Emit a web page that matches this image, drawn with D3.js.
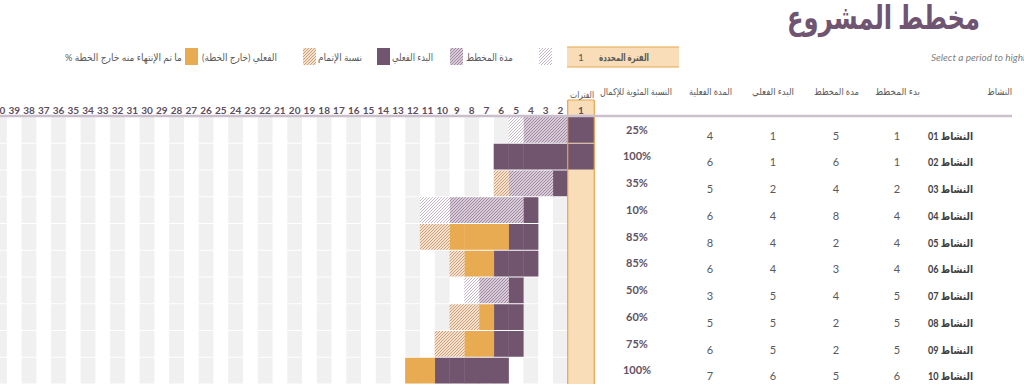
<!DOCTYPE html>
<html><head><meta charset="utf-8">
<script src="https://cdn.jsdelivr.net/npm/d3@7"></script>
<style>
html,body{margin:0;padding:0;background:#fff;overflow:hidden}
svg{display:block}
text{font-family:"Lato","DejaVu Sans",sans-serif}
.ar{direction:rtl;unicode-bidi:embed}
</style></head>
<body><svg id="chart" width="1024" height="384"></svg>
<script>
// ---------- DATA ----------
const title = "مخطط المشروع";
const subtitle = "Select a period to highlight at right.  A legend describing the charting follows.";
const activities = ["النشاط 01","النشاط 02","النشاط 03","النشاط 04","النشاط 05","النشاط 06","النشاط 07","النشاط 08","النشاط 09","النشاط 10"];
const planStart      = [1,1,2,4,4,4,5,5,5,6];
const planDuration   = [5,6,4,8,2,3,4,2,2,5];
const actualStart    = [1,1,2,4,4,4,5,5,5,6];
const actualDuration = [4,6,5,6,8,6,3,5,6,7];
const percentComplete= [25,100,35,10,85,85,50,60,75,100];
const periods = d3.range(1, 41);
const highlightPeriod = 1;
const columnHeaders = ["النشاط","بدء المخطط","مدة المخطط","البدء الفعلي","المدة الفعلية","النسبة المئوية للإكمال"];
const periodsHeader = "الفترات";
const highlightLabel = "الفترة المحددة";
const legendLabels = ["مدة المخطط","البدء الفعلي","نسبة الإتمام","الفعلي (خارج الخطة)","ما تم الإنتهاء منه خارج الخطة %"];

// ---------- STYLE ----------
const C = {
  purple:"#71556F", orange:"#E9AB51", hi:"#F8DDB8", hiBorder:"#E8A54B",
  stripe:"#F0F0F0", text:"#595959", dark:"#404040", line:"#CBBFCC", titleC:"#6F5571"
};

const svg = d3.select("#chart");
const defs = svg.append("defs");
function hatch(id, bg, fg, sw){
  const p = defs.append("pattern").attr("id",id).attr("patternUnits","userSpaceOnUse")
    .attr("width",3).attr("height",3);
  p.append("rect").attr("width",3).attr("height",3).attr("fill",bg);
  p.append("path").attr("d","M-1,1 l2,-2 M0,3 l3,-3 M2,4 l2,-2")
    .attr("stroke",fg).attr("stroke-width",sw);
}
hatch("hLight","#FFFFFF","#BCAEBD",0.9);
hatch("hPurple","#D6CBD6","#A089A1",1.0);
hatch("hOrange","#F2E1CF","#D0A078",1.0);

const fills = {
  complete:C.purple, completeBeyond:C.orange,
  actual:"url(#hPurple)", actualBeyond:"url(#hOrange)", plan:"url(#hLight)"
};

// ---------- SCALES ----------
const colW = 14.76;
const hiLeft = 567.7, hiRight = 594.3;
const xRight = d3.scaleLinear().domain([2, 42]).range([hiLeft, hiLeft - 40*colW]);
function colBounds(p){
  if (p === highlightPeriod) return [hiLeft, hiRight];
  const r = xRight(p);
  return [r - colW, r];
}
const y = d3.scaleBand().domain(activities).range([116, 116 + 10*26.75]).padding(0);
const rowH = y.bandwidth();

// Arabic text helper: right edge x, fitted width
function arText(g, xr, yy, str, len, size, opts = {}){
  const t = g.append("text").attr("class","ar").attr("x", xr).attr("y", yy)
    .attr("text-anchor","start").attr("font-size", size)
    .attr("fill", opts.fill || C.text)
    .attr("textLength", len).attr("lengthAdjust","spacingAndGlyphs");
  if (opts.weight) t.attr("font-weight", opts.weight);
  t.text(str);
  return t;
}

// ---------- STRIPES ----------
const gStripes = svg.append("g");
d3.range(1, 43).filter(p => p !== highlightPeriod && p % 2 === 0).forEach(p => {
  const [l, r] = colBounds(p);
  gStripes.selectAll(null).data(activities).enter().append("rect")
    .attr("x", l).attr("width", r - l)
    .attr("y", d => y(d) + 1).attr("height", rowH - 1)
    .attr("fill", C.stripe);
});

// highlight column
svg.append("rect").attr("x", hiLeft).attr("width", hiRight - hiLeft)
  .attr("y", 100).attr("height", 384 - 100).attr("fill", C.hi);

// ---------- BARS ----------
const cells = [];
activities.forEach((a, i) => {
  const ps = planStart[i], pd = planDuration[i], as = actualStart[i], ad = actualDuration[i], pc = percentComplete[i]/100;
  periods.forEach(p => {
    const inPlan = p >= ps && p <= ps + pd - 1;
    const inActual = p >= as && p <= as + ad - 1;
    const complete = pc > 0 && p >= as && p <= as + ad && (p < Math.floor(as + ad*pc + 1e-9) || p === as);
    let t = null;
    if (complete && inPlan) t = "complete";
    else if (complete) t = "completeBeyond";
    else if (inActual && inPlan) t = "actual";
    else if (inActual) t = "actualBeyond";
    else if (inPlan) t = "plan";
    if (t) cells.push({a, p, t});
  });
});
svg.append("g").selectAll("rect").data(cells).enter().append("rect")
  .attr("x", d => colBounds(d.p)[0] - 0.2)
  .attr("width", d => colBounds(d.p)[1] - colBounds(d.p)[0] + 0.4)
  .attr("y", d => y(d.a) + 1).attr("height", rowH - 1)
  .attr("fill", d => fills[d.t]);

// highlight borders
[hiLeft, hiRight].forEach(x => svg.append("line").attr("x1", x).attr("x2", x)
  .attr("y1", 100).attr("y2", 384).attr("stroke", C.hiBorder).attr("stroke-width", 1.2));
svg.append("line").attr("x1", hiLeft).attr("x2", hiRight).attr("y1", 100).attr("y2", 100)
  .attr("stroke", C.hiBorder).attr("stroke-width", 1);

// header line
svg.append("line").attr("x1", 0).attr("x2", 1012).attr("y1", 116).attr("y2", 116)
  .attr("stroke", C.line).attr("stroke-width", 2.4);

// period labels
svg.append("g").selectAll("text").data(periods).enter().append("text")
  .attr("x", p => (colBounds(p)[0] + colBounds(p)[1]) / 2)
  .attr("y", 114).attr("text-anchor", "middle")
  .attr("font-size", 10).attr("font-weight", "bold").attr("fill", "#5B4E5D")
  .text(p => p);

// ---------- TABLE TEXT ----------
arText(svg, 594, 97.5, periodsHeader, 24, 9.5);
const headerRight = [1012, 920, 859, 794, 732, 672];
const headerLen   = [25, 45, 45, 42, 43, 72];
columnHeaders.forEach((h, i) => arText(svg, headerRight[i], 94.5, h, headerLen[i], 9.5));

const gRows = svg.append("g");
activities.forEach((a, i) => {
  const t = y(a);
  arText(gRows, 973, t + 23.5, a, 45, 11, {fill: C.dark, weight: "bold"});
  [[897, planStart[i]], [836, planDuration[i]], [773, actualStart[i]], [710, actualDuration[i]]].forEach(([x, v]) => {
    gRows.append("text").attr("x", x).attr("y", t + 23.5).attr("text-anchor","middle")
      .attr("font-size", 11).attr("fill", C.text).text(v);
  });
  gRows.append("text").attr("x", 637).attr("y", t + 17.5).attr("text-anchor","middle")
    .attr("font-size", 11).attr("font-weight","bold").attr("fill", "#5F5262").text(percentComplete[i] + "%");
});

// ---------- TITLE & LEGEND ----------
arText(svg, 980, 29, title, 193, 33, {fill: C.titleC, weight: "bold"});
svg.append("text").attr("x", 931).attr("y", 61).attr("font-size", 10)
  .attr("font-style","italic").attr("fill","#7F7F7F").text(subtitle);

svg.append("rect").attr("x", 567).attr("y", 47).attr("width", 112).attr("height", 20).attr("fill", C.hi);
[47, 67].forEach(yy => svg.append("line").attr("x1",567).attr("x2",679).attr("y1",yy).attr("y2",yy)
  .attr("stroke", C.hiBorder).attr("stroke-width", 1));
svg.append("text").attr("x", 581).attr("y", 61).attr("text-anchor","middle").attr("font-size",10)
  .attr("fill", C.text).text(highlightPeriod);
arText(svg, 649, 61, highlightLabel, 50, 10, {weight: "bold"});

const swatches = [
  {x:539, f:fills.plan},
  {x:450, f:fills.actual},
  {x:377, f:fills.complete},
  {x:303, f:fills.actualBeyond},
  {x:185, f:fills.completeBeyond}
];
swatches.forEach(s => svg.append("rect").attr("x", s.x).attr("y", 48).attr("width", 13).attr("height", 17)
  .attr("fill", s.f));
const legendRight = [513, 433, 362, 277, 182];
const legendLen = [47, 41, 44, 75, 117];
legendLabels.forEach((l, i) => arText(svg, legendRight[i], 61, l, legendLen[i], 10));
</script></body></html>
